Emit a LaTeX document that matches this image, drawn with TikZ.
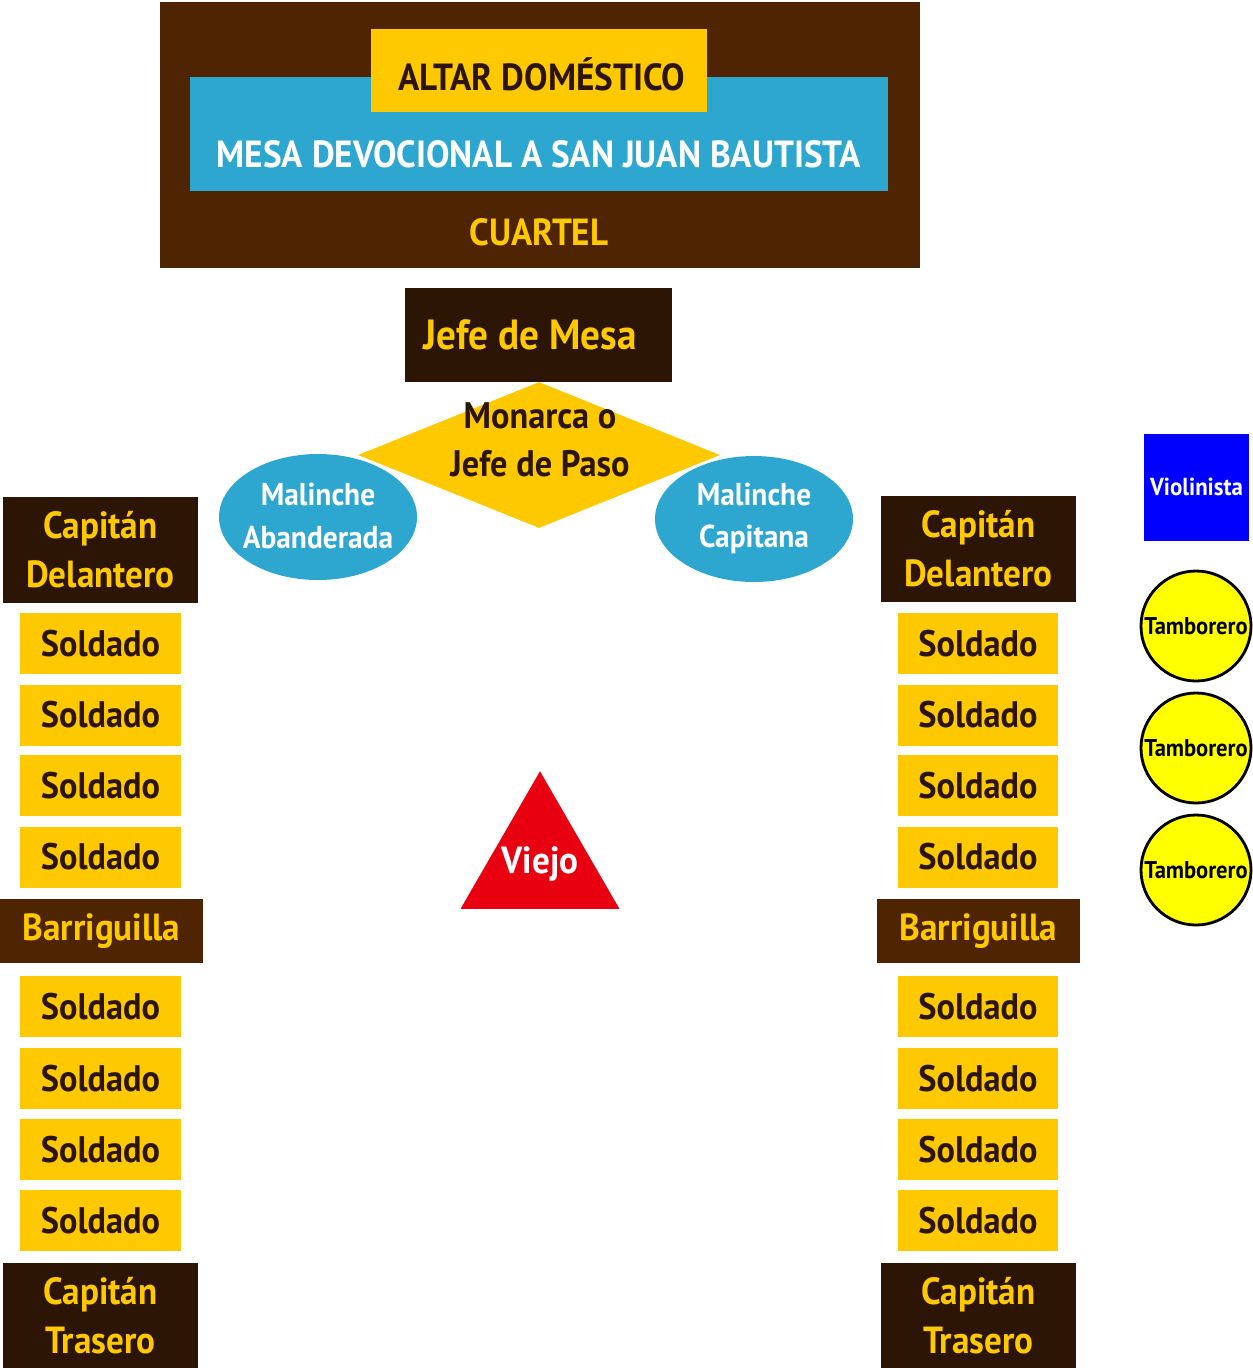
\documentclass[tikz,border=0pt]{standalone}
\usepackage{fontspec}
\setmainfont{PT Sans}[FakeStretch=0.93]
\usepackage{tikz}
\usetikzlibrary{shapes.geometric}
\definecolor{cafe_dark}{RGB}{44, 21, 5}
\definecolor{cafe}{RGB}{78, 36, 2}
\definecolor{oro}{RGB}{255, 201, 0}
\definecolor{celeste}{RGB}{45, 167, 208}
\definecolor{rojo}{RGB}{232, 0, 16}
\definecolor{azul}{RGB}{0, 0, 255}
\definecolor{amarillo}{RGB}{255, 255, 0}
\tikzstyle{sold}=[rectangle,fill=oro,text=cafe_dark,inner sep=0pt,
  minimum width=3.2cm,minimum height=1.22cm,font=\bfseries\fontsize{21}{27}\selectfont]
\tikzstyle{capn}=[rectangle,fill=cafe_dark,text=oro,inner sep=0pt,align=center,
  minimum width=3.9cm,minimum height=2.12cm,font=\bfseries\fontsize{21.5}{28}\selectfont]
\tikzstyle{barr}=[rectangle,fill=cafe,text=oro,inner sep=0pt,
  minimum width=4.06cm,minimum height=1.28cm,font=\bfseries\fontsize{21.5}{28}\selectfont]
\tikzstyle{mal}=[ellipse,fill=celeste,inner sep=0pt,
  minimum width=3.96cm,minimum height=2.52cm]
\tikzstyle{maltxt}=[text=white,align=center,font=\bfseries\fontsize{18}{24}\selectfont]
\tikzstyle{tamb}=[circle,fill=amarillo,draw=black,line width=1.6pt,inner sep=0pt,
  minimum size=2.2cm,font=\bfseries\fontsize{13.8}{15}\selectfont]
\tikzstyle{none}=[]

\begin{document}
\begin{tikzpicture}[x=0.2mm, y=-0.2mm]
		\useasboundingbox (0, 0) rectangle (1253, 1368);
		% cuartel
		\node [rectangle,fill=cafe,minimum width=15.2cm,minimum height=5.32cm] (0) at (540, 135) {};
		\node [rectangle,fill=celeste,minimum width=13.96cm,minimum height=2.28cm] (1) at (539, 134) {};
		\node [rectangle,fill=oro,minimum width=6.72cm,minimum height=1.66cm] (2) at (539, 70.5) {};
		\node [style=none,text=cafe_dark,font=\bfseries\fontsize{21.5}{24}\selectfont] (3) at (542, 74) {ALTAR DOMÉSTICO};
		\node [style=none,text=white,font=\bfseries\fontsize{21.5}{24}\selectfont] (4) at (539, 154) {MESA DEVOCIONAL A SAN JUAN BAUTISTA};
		\node [style=none,text=oro,font=\bfseries\fontsize{21.5}{24}\selectfont] (5) at (539, 232) {CUARTEL};
		% centro
		\node [rectangle,fill=cafe_dark,minimum width=5.34cm,minimum height=1.88cm] (6) at (538.5, 335) {};
		\node [style=none,text=oro,font=\bfseries\fontsize{24}{26}\selectfont] (7) at (530, 335) {Jefe de Mesa};
		\node [diamond,fill=oro,inner sep=0pt,minimum width=7.24cm,minimum height=2.92cm] (8) at (539, 455) {};
		\node [style=none,text=cafe_dark,align=center,font=\bfseries\fontsize{21}{27.5}\selectfont] (9) at (540, 440) {Monarca o\\Jefe de Paso};
		\node [style=mal] (10) at (318, 517) {};
		\node [style=maltxt] (11) at (318, 516) {Malinche\\Abanderada};
		\node [style=mal] (12) at (754, 519) {};
		\node [style=maltxt] (13) at (754, 518) {Malinche\\Capitana};
		\node [regular polygon,regular polygon sides=3,fill=rojo,inner sep=0pt,
			minimum size=3.67cm] (14) at (540, 863) {};
		\node [style=none,text=white,font=\bfseries\fontsize{21.5}{24}\selectfont] (15) at (540, 864) {Viejo};
		% fila izquierda
		\node [style=capn] (16) at (100.5, 550) {Capitán\\Delantero};
		\node [style=sold] (17) at (100.5, 643.5) {Soldado};
		\node [style=sold] (18) at (100.5, 715) {Soldado};
		\node [style=sold] (19) at (100.5, 785.5) {Soldado};
		\node [style=sold] (20) at (100.5, 857) {Soldado};
		\node [style=barr] (21) at (101.5, 931) {Barriguilla};
		\node [style=sold] (22) at (100.5, 1006.5) {Soldado};
		\node [style=sold] (23) at (100.5, 1078.5) {Soldado};
		\node [style=sold] (24) at (100.5, 1149.5) {Soldado};
		\node [style=sold] (25) at (100.5, 1220.5) {Soldado};
		\node [style=capn] (26) at (100.5, 1316) {Capitán\\Trasero};
		% fila derecha
		\node [style=capn] (27) at (978.5, 549) {Capitán\\Delantero};
		\node [style=sold] (28) at (978, 643.5) {Soldado};
		\node [style=sold] (29) at (978, 715) {Soldado};
		\node [style=sold] (30) at (978, 785.5) {Soldado};
		\node [style=sold] (31) at (978, 857) {Soldado};
		\node [style=barr] (32) at (978.5, 931) {Barriguilla};
		\node [style=sold] (33) at (978, 1006.5) {Soldado};
		\node [style=sold] (34) at (978, 1078.5) {Soldado};
		\node [style=sold] (35) at (978, 1149.5) {Soldado};
		\node [style=sold] (36) at (978, 1220.5) {Soldado};
		\node [style=capn] (37) at (978.5, 1316) {Capitán\\Trasero};
		% musicos
		\node [rectangle,fill=azul,text=white,minimum width=2.1cm,minimum height=2.14cm,
			font=\bfseries\fontsize{14}{16}\selectfont] (38) at (1196.5, 487) {Violinista};
		\node [style=tamb] (39) at (1196, 626) {Tamborero};
		\node [style=tamb] (40) at (1196, 748) {Tamborero};
		\node [style=tamb] (41) at (1196, 870) {Tamborero};
\end{tikzpicture}
\end{document}
